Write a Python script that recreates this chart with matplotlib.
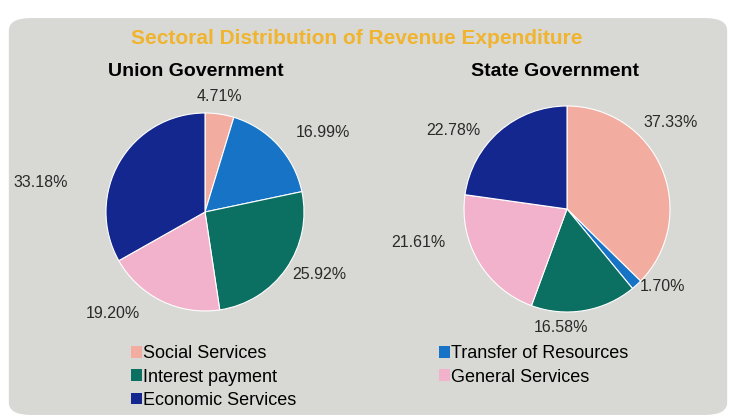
import matplotlib.pyplot as plt
from matplotlib.patches import FancyBboxPatch, Patch

plt.rcParams['font.family'] = ['Liberation Sans', 'DejaVu Sans']

title = 'Sectoral Distribution of Revenue Expenditure'
sectors = ['Social Services', 'Transfer of Resources', 'Interest payment',
           'General Services', 'Economic Services']
union_share = [4.71, 16.99, 25.92, 19.20, 33.18]
state_share = [37.33, 1.70, 16.58, 21.61, 22.78]
union_labels = ['4.71%', '16.99%', '25.92%', '19.20%', '33.18%']
state_labels = ['37.33%', '1.70%', '16.58%', '21.61%', '22.78%']

colors = ['#f2aca0', '#1673c6', '#0b6f62', '#f2b2cc', '#13278e']

# label positions relative to pie centre (in radius units)
union_pos = [(0.15, 1.17), (1.19, 0.80), (1.15, -0.63), (-0.93, -1.03), (-1.66, 0.30)]
state_pos = [(1.01, 0.84), (0.93, -0.75), (-0.06, -1.15), (-1.44, -0.33), (-1.10, 0.76)]


def pie_axes(fig, cx, cy, r_px):
    w = 3.6 * r_px
    ax = fig.add_axes([(cx - w / 2) / 736, 1 - (cy + w / 2) / 420, w / 736, w / 420])
    ax.set_zorder(2)
    ax.patch.set_visible(False)
    return ax


def draw_pie(ax, values, labels, pos):
    ax.pie(values, colors=colors, startangle=90, counterclock=False,
           wedgeprops=dict(edgecolor='white', linewidth=0.8))
    for lab, (x, y) in zip(labels, pos):
        ax.text(x, y, lab, ha='center', va='center', fontsize=11.5, color='#2a2a2a')
    ax.set_xlim(-1.8, 1.8)
    ax.set_ylim(-1.8, 1.8)
    ax.set_aspect('equal')
    ax.axis('off')


def main():
    fig = plt.figure(figsize=(7.36, 4.2), dpi=100)
    fig.patch.set_facecolor('white')

    bg = FancyBboxPatch((0.012, 0.012), 0.976, 0.945,
                        boxstyle='round,pad=0,rounding_size=0.03',
                        transform=fig.transFigure, facecolor='#d8d8d4',
                        edgecolor='none', zorder=-5)
    fig.patches.append(bg)

    ax1 = pie_axes(fig, 205, 212, 99)
    ax2 = pie_axes(fig, 567, 209, 103)
    draw_pie(ax1, union_share, union_labels, union_pos)
    draw_pie(ax2, state_share, state_labels, state_pos)

    fig.text(357 / 736, 1 - 38 / 420, title, ha='center', va='center',
             fontsize=15, fontweight='bold', color='#f0b42e')
    fig.text(196 / 736, 1 - 72 / 420, 'Union Government', ha='center', va='center',
             fontsize=14, fontweight='bold', color='black')
    fig.text(555 / 736, 1 - 72 / 420, 'State Government', ha='center', va='center',
             fontsize=14, fontweight='bold', color='black')

    order = [0, 2, 4, 1, 3]
    handles = [Patch(facecolor=colors[i], edgecolor='none') for i in order]
    names = [sectors[i] for i in order]
    fig.legend(handles, names, ncol=2, loc='upper left',
               bbox_to_anchor=(115 / 736, 1 - 329 / 420), frameon=False,
               handlelength=0.6, handleheight=0.6, handletextpad=0.05,
               labelspacing=0.35, columnspacing=7.9,
               prop={'size': 13})

    fig.savefig('out.png', dpi=100, facecolor=fig.get_facecolor())


if __name__ == '__main__':
    main()
